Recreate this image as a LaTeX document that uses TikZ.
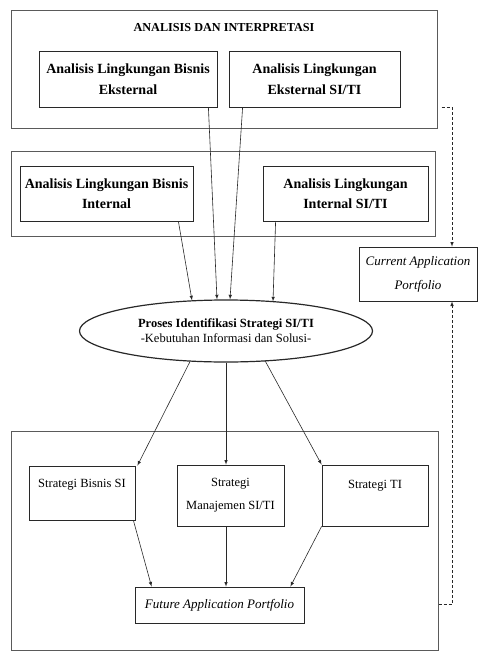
\documentclass[tikz,border=0pt]{standalone}
\usepackage{fontspec}
\setmainfont{Liberation Serif}
\usetikzlibrary{shapes,arrows}
\definecolor{framegray}{RGB}{90,90,90}
\definecolor{boxblack}{RGB}{40,40,40}

\tikzset{
    bigbox/.style={draw=framegray, line width=1pt, rectangle, inner sep=0pt},
    box/.style={draw=boxblack, line width=0.8pt, rectangle, align=center, inner sep=2pt},
    proc/.style={draw=boxblack, line width=1.2pt, ellipse, align=center, inner sep=0pt},
    arr/.style={-latex, line width=0.6pt, boxblack},
    dasharr/.style={-latex, line width=0.6pt, boxblack, dash pattern=on 3pt off 2pt}
}

\begin{document}
\begin{tikzpicture}[x=1pt, y=-1pt, font=\fontsize{12.5}{15}\selectfont]
    \useasboundingbox (0,0) rectangle (477,653);

    % Analisis dan interpretasi (eksternal)
    \node[bigbox, minimum width=426pt, minimum height=118pt] (outerext) at (224,69) {};
    \node[font=\fontsize{12.2}{15}\selectfont\bfseries] (title) at (224,28) {ANALISIS DAN INTERPRETASI};
    \node[box, font=\fontsize{14}{15}\selectfont\bfseries, minimum width=178pt, minimum height=56pt] (extbis) at (128,79)
        {Analisis Lingkungan Bisnis\\[6pt]Eksternal};
    \node[box, font=\fontsize{14}{15}\selectfont\bfseries, minimum width=171pt, minimum height=56pt] (extsiti) at (314.5,79)
        {Analisis Lingkungan\\[6pt]Eksternal SI/TI};

    % Internal
    \node[bigbox, minimum width=424pt, minimum height=85pt] (outerint) at (223,193.5) {};
    \node[box, font=\fontsize{14}{15}\selectfont\bfseries, minimum width=173pt, minimum height=55pt] (intbis) at (106.5,193.5)
        {Analisis Lingkungan Bisnis\\[5pt]Internal};
    \node[box, font=\fontsize{14}{15}\selectfont\bfseries, minimum width=165pt, minimum height=55pt] (intsiti) at (345.5,193.5)
        {Analisis Lingkungan\\[5pt]Internal SI/TI};

    % Current application portfolio
    \node[box, font=\fontsize{13}{15}\selectfont\itshape, minimum width=118pt, minimum height=54pt] (current) at (418,274)
        {Current Application\\[9pt]Portfolio};

    % Proses identifikasi
    \node[proc, minimum width=293pt, minimum height=62pt] (identif) at (226,331)
        {\textbf{Proses Identifikasi Strategi SI/TI}\\[0pt]-Kebutuhan Informasi dan Solusi-};

    % Strategi
    \node[bigbox, minimum width=427pt, minimum height=219pt] (outerstr) at (224.5,540.5) {};
    \node[box, minimum width=106pt, minimum height=54pt] (strbis) at (82,493)
        {Strategi Bisnis SI\\[5pt]~};
    \node[box, minimum width=107pt, minimum height=61pt] (strman) at (230.5,495.5)
        {Strategi\\[8pt]Manajemen SI/TI};
    \node[box, minimum width=106pt, minimum height=61pt] (strti) at (375,495.5)
        {Strategi TI\\[8pt]~};
    \node[box, font=\fontsize{13}{15}\selectfont\itshape, minimum width=169pt, minimum height=36pt] (future) at (219.5,605)
        {Future Application Portfolio};

    % Panah ke proses
    \draw[arr] ([xshift=-9pt]extbis.south east) -- ([xshift=-9pt]identif.north);
    \draw[arr] ([xshift=14pt]extsiti.south west) -- ([xshift=4pt]identif.north);
    \draw[arr] ([xshift=-15pt]intbis.south east) -- ([xshift=-34pt, yshift=-1pt]identif.north);
    \draw[arr] ([xshift=13pt]intsiti.south west) -- ([xshift=47pt, yshift=-2pt]identif.north);

    % Panah ke strategi
    \draw[arr] ([xshift=-36pt, yshift=1pt]identif.south) -- ([xshift=2pt]strbis.north east);
    \draw[arr] (identif.south) -- (identif.south |- strman.north);
    \draw[arr] ([xshift=39pt, yshift=2pt]identif.south) -- (strti.north west);

    % Panah ke future
    \draw[arr] ([xshift=-2pt]strbis.south east) -- ([xshift=17pt]future.north west);
    \draw[arr] (identif.south |- strman.south) -- (identif.south |- future.north);
    \draw[arr] (strti.south west) -- ([xshift=-14pt]future.north east);

    % Garis putus-putus ke current portfolio
    \draw[dasharr] ([xshift=4pt, yshift=21pt]outerext.south east) -| ([xshift=34pt]current.north);
    \draw[dasharr] ([yshift=-63.5pt]outerstr.east) -| ([xshift=34pt]current.south);
\end{tikzpicture}
\end{document}
